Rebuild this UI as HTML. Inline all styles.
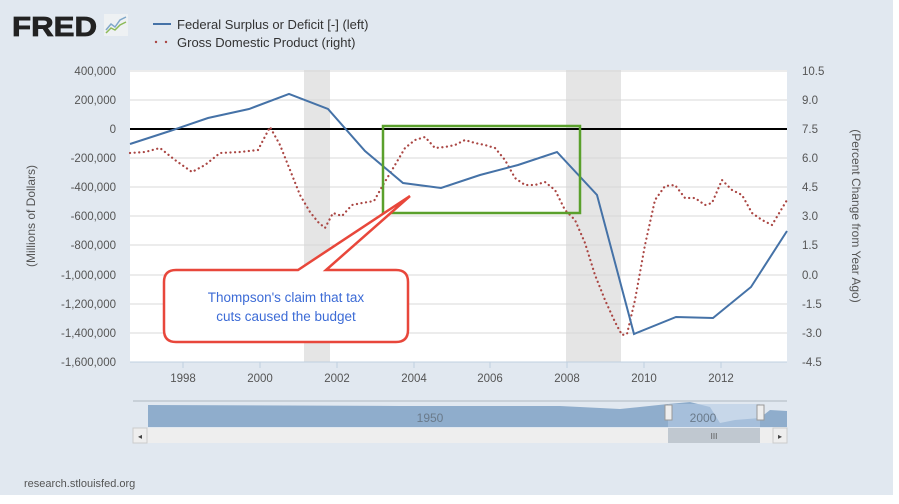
<!DOCTYPE html>
<html><head><style>
body{margin:0;width:899px;height:499px;background:#fff;overflow:hidden;font-family:"Liberation Sans",sans-serif}
</style></head><body>
<svg width="899" height="499" xmlns="http://www.w3.org/2000/svg" font-family="Liberation Sans, sans-serif">
<rect x="0" y="0" width="893" height="495" fill="#e1e8f0"/>
<text x="12" y="36" font-size="28" font-weight="bold" fill="#222" textLength="85" lengthAdjust="spacingAndGlyphs" stroke="#222" stroke-width="0.8">FRED</text>
<g transform="translate(104,14)"><rect width="24" height="22" fill="#eef1f3"/><polyline points="2,16 7,10 11,13 16,6 22,3" fill="none" stroke="#7fa7c9" stroke-width="1.5"/><polyline points="2,19 7,14 11,16 16,11 22,8" fill="none" stroke="#8cba57" stroke-width="1.5"/></g>
<line x1="153" y1="24" x2="171" y2="24" stroke="#4572a7" stroke-width="2"/>
<text x="177" y="29" font-size="13" fill="#333">Federal Surplus or Deficit [-] (left)</text>
<circle cx="156" cy="42" r="1.2" fill="#aa4643"/><circle cx="166" cy="42" r="1.2" fill="#aa4643"/>
<text x="177" y="47" font-size="13" fill="#333">Gross Domestic Product (right)</text>
<rect x="130" y="70" width="657" height="292" fill="#fff"/>
<rect x="304" y="70" width="26" height="292" fill="#e5e5e5"/>
<rect x="566" y="70" width="55" height="292" fill="#e5e5e5"/>
<g stroke="#d8d8d8" stroke-width="1">
<line x1="130" x2="787" y1="71" y2="71"/><line x1="130" x2="787" y1="100" y2="100"/><line x1="130" x2="787" y1="158" y2="158"/><line x1="130" x2="787" y1="187" y2="187"/><line x1="130" x2="787" y1="216" y2="216"/><line x1="130" x2="787" y1="245" y2="245"/><line x1="130" x2="787" y1="275" y2="275"/><line x1="130" x2="787" y1="304" y2="304"/><line x1="130" x2="787" y1="333" y2="333"/>
</g>
<line x1="130" x2="787" y1="362" y2="362" stroke="#c0d0e0"/>
<line x1="130" x2="787" y1="129" y2="129" stroke="#000" stroke-width="2"/>
<g font-size="11.5" fill="#555" text-anchor="end">
<text x="116" y="75">400,000</text><text x="116" y="104">200,000</text><text x="116" y="133">0</text><text x="116" y="162">-200,000</text><text x="116" y="191">-400,000</text><text x="116" y="220">-600,000</text><text x="116" y="249">-800,000</text><text x="116" y="279">-1,000,000</text><text x="116" y="308">-1,200,000</text><text x="116" y="337">-1,400,000</text><text x="116" y="366">-1,600,000</text>
</g>
<g font-size="11.5" fill="#555" text-anchor="start">
<text x="802" y="75">10.5</text><text x="802" y="104">9.0</text><text x="802" y="133">7.5</text><text x="802" y="162">6.0</text><text x="802" y="191">4.5</text><text x="802" y="220">3.0</text><text x="802" y="249">1.5</text><text x="802" y="279">0.0</text><text x="802" y="308">-1.5</text><text x="802" y="337">-3.0</text><text x="802" y="366">-4.5</text>
</g>
<g font-size="11.5" fill="#555" text-anchor="middle">
<text x="183" y="382">1998</text><text x="260" y="382">2000</text><text x="337" y="382">2002</text><text x="414" y="382">2004</text><text x="490" y="382">2006</text><text x="567" y="382">2008</text><text x="644" y="382">2010</text><text x="721" y="382">2012</text>
</g>
<g stroke="#c0d0e0"><line x1="183" x2="183" y1="362" y2="368"/><line x1="260" x2="260" y1="362" y2="368"/><line x1="337" x2="337" y1="362" y2="368"/><line x1="414" x2="414" y1="362" y2="368"/><line x1="490" x2="490" y1="362" y2="368"/><line x1="567" x2="567" y1="362" y2="368"/><line x1="644" x2="644" y1="362" y2="368"/><line x1="721" x2="721" y1="362" y2="368"/></g>
<text transform="translate(35,216) rotate(-90)" font-size="12" fill="#555" text-anchor="middle">(Millions of Dollars)</text>
<text transform="translate(852,216) rotate(90)" font-size="12" fill="#555" text-anchor="middle">(Percent Change from Year Ago)</text>
<polyline fill="none" stroke="#aa4643" stroke-width="2.2" stroke-dasharray="0.1 4.5" stroke-linecap="round" points="130,153 145,152 160,148 175,160 192,172 205,165 220,153 240,152 258,150 270,127 280,145 290,170 300,195 310,212 318,222 325,228 333,213 342,216 352,205 362,203 374,201 383,185 395,165 405,148 415,140 425,137 435,148 445,147 455,145 465,140 475,143 485,145 495,148 505,160 515,178 525,185 535,185 545,182 555,190 565,210 575,220 585,243 595,275 605,300 615,322 622,335 627,334 635,300 645,245 655,200 665,186 675,185 685,198 695,198 705,205 712,203 722,180 732,190 742,195 752,213 762,220 772,225 787,200"/>
<polyline fill="none" stroke="#4572a7" stroke-width="2" points="130,144 170,131 208,118 249,109 289,94 328,109 365,151 403,183 441,188 480,175 518,165 557,152 597,195 634,334 676,317 713,318 751,287 787,231"/>
<rect x="383" y="126" width="197" height="87" fill="none" stroke="#5aa02c" stroke-width="2.5"/>
<path d="M176,270 H298 L410,196 L326,270 H396 Q408,270 408,282 V330 Q408,342 396,342 H176 Q164,342 164,330 V282 Q164,270 176,270 Z" fill="#fff" stroke="#e8473b" stroke-width="2.5"/>
<text x="286" y="302" font-size="13.5" fill="#3c6bd6" text-anchor="middle">Thompson's claim that tax</text>
<text x="286" y="321" font-size="13.5" fill="#3c6bd6" text-anchor="middle">cuts caused the budget</text>
<line x1="133" x2="787" y1="401" y2="401" stroke="#b0b8c0"/>
<path d="M148,405 L400,406 L560,406 L620,409 L668,404 L690,402 L710,407 L720,423 L735,420 L760,418 L770,410 L787,411 V427 H148 Z" fill="#8fadcc"/>
<rect x="668" y="404" width="92" height="23" fill="#b5cce4" opacity="0.6"/>
<text x="430" y="422" font-size="12" fill="#6a7a8a" text-anchor="middle">1950</text>
<text x="703" y="422" font-size="12" fill="#6a7a8a" text-anchor="middle">2000</text>
<rect x="665" y="405" width="7" height="15" fill="#eee" stroke="#999"/>
<rect x="757" y="405" width="7" height="15" fill="#eee" stroke="#999"/>
<rect x="133" y="428" width="654" height="15" fill="#eee"/>
<rect x="668" y="428" width="92" height="15" fill="#c0c8d0"/>
<text x="714" y="439" font-size="8" fill="#555" text-anchor="middle">III</text>
<rect x="133" y="428" width="14" height="15" fill="#eee" stroke="#ccc"/>
<rect x="773" y="428" width="14" height="15" fill="#eee" stroke="#ccc"/>
<text x="140" y="439" font-size="8" fill="#444" text-anchor="middle">◂</text>
<text x="780" y="439" font-size="8" fill="#444" text-anchor="middle">▸</text>
<text x="24" y="487" font-size="11" fill="#555">research.stlouisfed.org</text>
</svg>
</body></html>
